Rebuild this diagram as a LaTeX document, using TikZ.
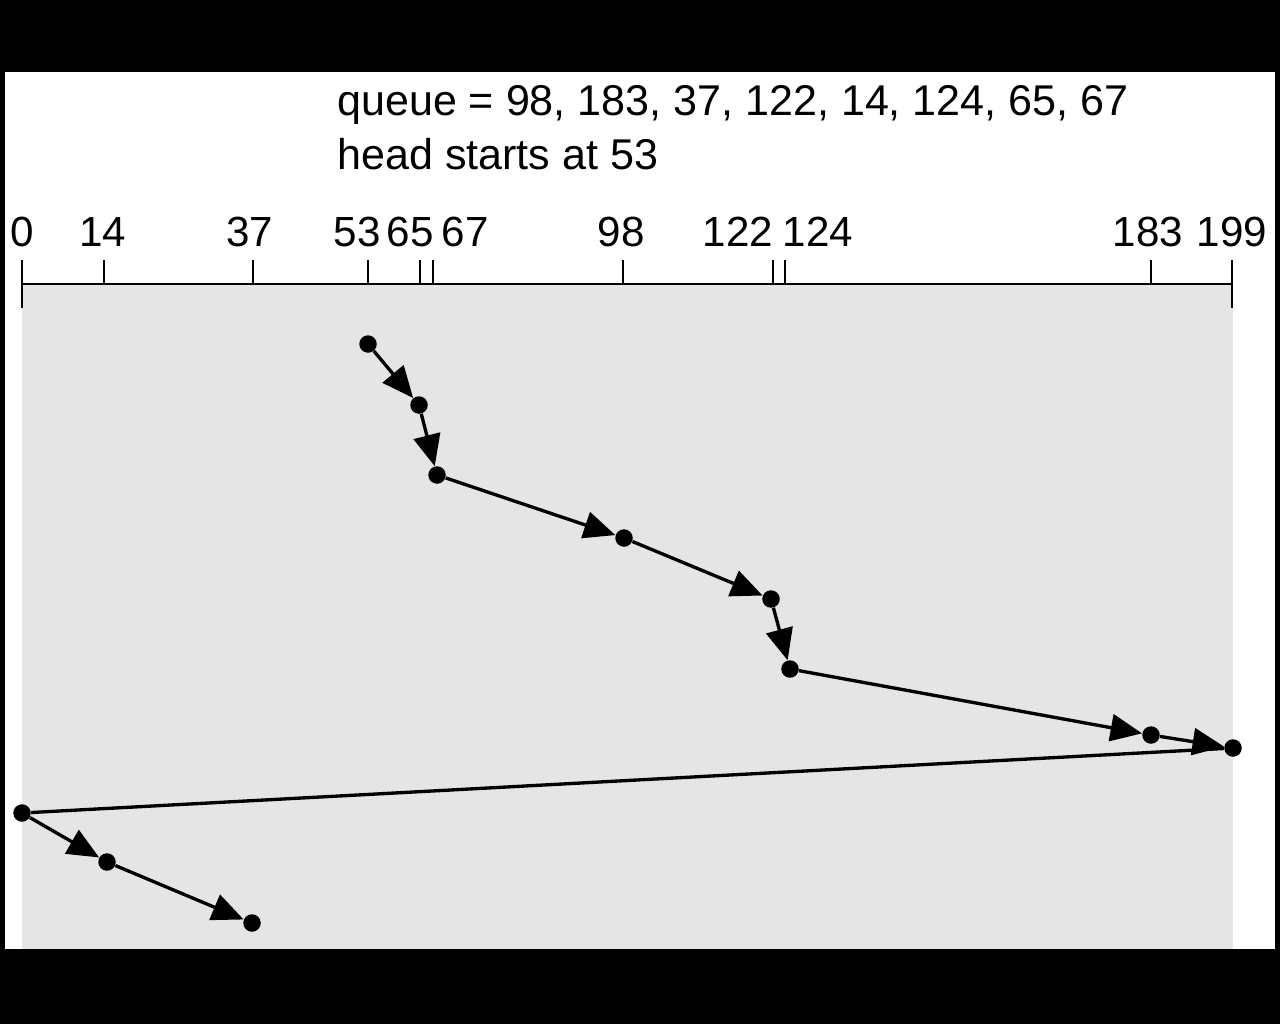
\documentclass[tikz,border=0pt]{standalone}
\usepackage{fontspec}
\setmainfont{Liberation Sans}
\usetikzlibrary{arrows.meta}

\tikzset{
  track/.style={circle,fill=black,inner sep=0pt,minimum size=0.35cm},
  seek/.style={line width=1.9pt,-{Triangle[length=0.63cm,width=0.54cm]}},
  jump/.style={line width=1.9pt},
  ticklabel/.style={anchor=base,inner sep=0pt,font=\fontsize{24}{28}\selectfont}
}

\begin{document}
\begin{tikzpicture}[x=0.02cm,y=-0.02cm]
                  \fill[black] (0,0) rectangle (1280,1024);
                  \fill[white] (5,72) rectangle (1275,949);
                  \fill[black!10] (22,284) rectangle (1233,949);

                  \node[anchor=base west,inner sep=0pt,font=\fontsize{24.5}{28}\selectfont] (queue) at (337,115) {queue = 98, 183, 37, 122, 14, 124, 65, 67};
                  \node[anchor=base west,inner sep=0pt,font=\fontsize{24.5}{28}\selectfont] (head) at (337,169) {head starts at 53};

                  % cylinder axis
                  \draw[line width=1.6pt] (22,284) -- (1232,284);
                  \draw[line width=1.6pt] (22,260) -- (22,308);
                  \draw[line width=1.6pt] (1232,260) -- (1232,308);
                  \foreach \x in {104,253,368,420,433,623,773,785,1151}
                    \draw[line width=1.6pt] (\x,260) -- (\x,284);
                  \foreach \x/\l in {22/0,103/14,250/37,357/53,410/65,465/67,621/98,738/122,818/124,1148/183,1232/199}
                    \node[ticklabel] (lab\l) at (\x,246) {\l};

                  % head movement
                  \node[track] (c53) at (368,344) {};
                  \node[track] (c65) at (419,405) {};
                  \node[track] (c67) at (437,475) {};
                  \node[track] (c98) at (624,538) {};
                  \node[track] (c122) at (771,599) {};
                  \node[track] (c124) at (790,669) {};
                  \node[track] (c183) at (1151,735) {};
                  \node[track] (c199) at (1233,748) {};
                  \node[track] (c0) at (22,813) {};
                  \node[track] (c14) at (107,862) {};
                  \node[track] (c37) at (252,923) {};

                  \draw[seek] (c53) -- (c65);
                  \draw[seek] (c65) -- (c67);
                  \draw[seek] (c67) -- (c98);
                  \draw[seek] (c98) -- (c122);
                  \draw[seek] (c122) -- (c124);
                  \draw[seek] (c124) -- (c183);
                  \draw[seek] (c183) -- (c199);
                  \draw[jump] (c199) -- (c0);
                  \draw[seek] (c0) -- (c14);
                  \draw[seek] (c14) -- (c37);
              \end{tikzpicture}
\end{document}
